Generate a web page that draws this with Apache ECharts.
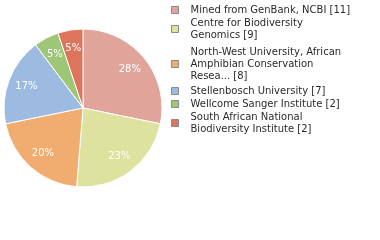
<!DOCTYPE html>
<html><head><meta charset="utf-8">
<script src="https://cdn.jsdelivr.net/npm/echarts@6/dist/echarts.min.js"></script>
<style>html,body{margin:0;padding:0;background:#fff}#c{width:380px;height:240px}</style>
</head><body><div id="c"></div>
<script>
var categories = [
  'Mined from GenBank, NCBI',
  'Centre for Biodiversity\nGenomics',
  'North-West University, African\nAmphibian Conservation\nResea...',
  'Stellenbosch University',
  'Wellcome Sanger Institute',
  'South African National\nBiodiversity Institute'
];
var counts = [11, 9, 8, 7, 2, 2];
var colors = ['#E0A49B', '#DDE29F', '#F0AD6F', '#9DBBE1', '#9DC677', '#DE745B'];
var legendTops = [4, 17, 46, 85, 98, 111];

var total = counts.reduce(function(a,b){return a+b;},0);
var data = categories.map(function(n,i){return {name:n, value:counts[i], itemStyle:{color:colors[i]}};});
var FONT = 'DejaVu Sans';

var legends = categories.map(function(n,i){
  return {
    orient:'vertical', left:171, top:legendTops[i], padding:0, itemGap:0,
    itemWidth:7, itemHeight:7, icon:'rect', selectedMode:false,
    itemStyle:{borderColor:'#8a8a8a', borderWidth:1},
    textStyle:{fontFamily:FONT, fontSize:10, color:'#2a2a2a', lineHeight:12, padding:[0,0,0,7]},
    formatter:function(name){return name + ' [' + counts[categories.indexOf(name)] + ']';},
    data:[n]
  };
});

var chart = echarts.init(document.getElementById('c'), null, {renderer:'canvas'});
chart.setOption({
  animation:false,
  legend:legends,
  series:[
    {type:'pie', center:[83,108], radius:[0,79], startAngle:90, clockwise:true,
     data:data, label:{show:false}, labelLine:{show:false},
     itemStyle:{borderColor:'#fff', borderWidth:1}, emphasis:{disabled:true}, silent:true},
    {type:'pie', center:[83,108], radius:[36,79], startAngle:90, clockwise:true,
     data:data.map(function(d){return {name:d.name, value:d.value, itemStyle:{color:'rgba(0,0,0,0)'}};}),
     legendHoverLink:false, silent:true, emphasis:{disabled:true},
     itemStyle:{borderWidth:0},
     label:{show:true, position:'inside', color:'#fff', fontFamily:FONT, fontSize:10,
       formatter:function(p){return Math.floor(p.value/total*100) + '%';}},
     labelLine:{show:false}}
  ]
});
</script></body></html>
